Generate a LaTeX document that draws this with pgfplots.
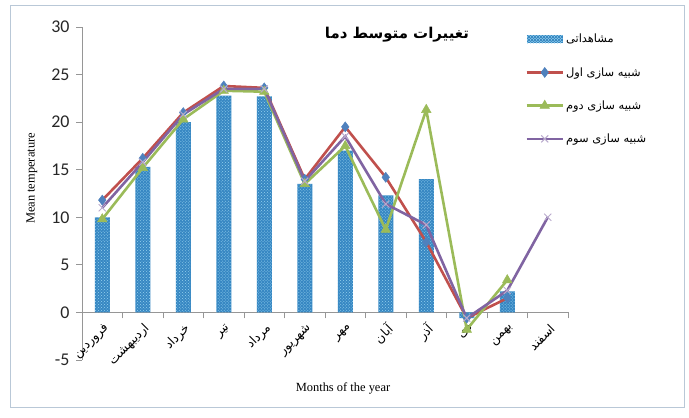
\documentclass[border=0pt]{standalone}
\usepackage{fontspec}
\usepackage{pgfplots}
\pgfplotsset{compat=1.18}
\usetikzlibrary{patterns}
\setmainfont{Liberation Serif}
\newfontfamily\arabicfont[Script=Arabic]{DejaVu Sans}
\newfontfamily\tickfont{Carlito}
\TeXXeTstate=1
\definecolor{barblue}{RGB}{55,135,195}
\definecolor{barlight}{RGB}{150,210,238}
\definecolor{sred}{RGB}{192,80,77}
\definecolor{sblue}{RGB}{79,129,189}
\definecolor{sgreen}{RGB}{155,187,89}
\definecolor{spurple}{RGB}{128,100,162}
\definecolor{xpurple}{RGB}{185,170,205}
\definecolor{framec}{RGB}{185,200,215}
\definecolor{axisgray}{RGB}{150,150,150}
\begin{document}
\begin{tikzpicture}
\useasboundingbox (0,0) rectangle (689bp,418bp);
\draw[framec, line width=1bp] (10.5bp,10bp) rectangle (684bp,412bp);
\begin{axis}[
  at={(82bp,58bp)}, anchor=south west,
  scale only axis, width=486bp, height=333bp,
  xmin=-0.5, xmax=11.5, ymin=-5, ymax=30,
  axis x line*=middle, axis y line*=left,
  axis line style={-, draw=axisgray, line width=0.8bp},
  xtick={0,...,11},
  xticklabels={{\beginR فروردین\endR},{\beginR اردیبهشت\endR},{\beginR خرداد\endR},{\beginR تیر\endR},{\beginR مرداد\endR},{\beginR شهریور\endR},{\beginR مهر\endR},{\beginR آبان\endR},{\beginR آذر\endR},{\beginR دی\endR},{\beginR بهمن\endR},{\beginR اسفند\endR}},
  minor xtick={-0.5,0.5,...,11.5},
  major x tick style={draw=none},
  minor x tick style={draw=axisgray, line width=0.8bp},
  minor tick length=6bp,
  tick align=outside,
  ytick={-5,0,...,30},
  major y tick style={draw=axisgray, line width=0.8bp},
  major tick length=6bp,
  /pgf/number format/assume math mode=true,
  yticklabel style={font=\tickfont\fontsize{18}{18}\selectfont, text=black!85, xshift=-3bp},
  xticklabel style={font=\arabicfont\fontsize{12.5}{12.5}\selectfont, rotate=45, anchor=east, yshift=-9bp, xshift=1bp},
  ylabel={Mean temperature},
  ylabel style={font=\fontsize{12.5}{12.5}\selectfont, at={(axis description cs:-0.103,0.545)}, anchor=center},
  xlabel={Months of the year},
  xlabel style={font=\fontsize{12.5}{12.5}\selectfont, at={(axis description cs:0.537,-0.084)}, anchor=center},
  legend style={at={(axis description cs:0.912,0.985)}, anchor=north west, draw=none, fill=none,
    font=\arabicfont\fontsize{11.5}{11.5}\selectfont, row sep=19bp, inner sep=0pt,
    cells={anchor=west}},
  legend image code/.code={
    \draw[mark repeat=2,mark phase=2,#1] plot coordinates {(0bp,0bp) (18bp,0bp) (36bp,0bp)};
  },
]
\addplot[ybar, bar width=15bp, draw=none, fill=barblue,
  postaction={pattern=crosshatch dots, pattern color=barlight},
  legend image code/.code={\fill[barblue] (0bp,-4bp) rectangle (36bp,4bp);
     \fill[pattern=crosshatch dots, pattern color=barlight] (0bp,-4bp) rectangle (36bp,4bp);}]
  coordinates {(0,10) (1,15.3) (2,20) (3,22.8) (4,22.7) (5,13.5) (6,17) (7,12.3) (8,14) (9,-0.6) (10,2.2)};
\addlegendentry{\beginR مشاهداتی\endR}
\addplot[sred, line width=2.6bp, mark=diamond*, mark size=5bp, mark options={fill=sblue, draw=sblue, line width=0.5bp}]
  coordinates {(0,11.8) (1,16.2) (2,21) (3,23.8) (4,23.6) (5,14) (6,19.5) (7,14.2) (8,7.4) (9,-0.6) (10,1.5)};
\addlegendentry{\beginR شبیه سازی اول\endR}
\addplot[sgreen, line width=2.6bp, mark=triangle*, mark size=5.5bp, mark options={fill=sgreen, draw=sgreen, line width=0.5bp}]
  coordinates {(0,9.8) (1,15.2) (2,20.3) (3,23.3) (4,23.2) (5,13.5) (6,17.5) (7,8.7) (8,21.3) (9,-1.8) (10,3.4)};
\addlegendentry{\beginR شبیه سازی دوم\endR}
\addplot[spurple, line width=2.6bp, mark=x, mark size=5bp, mark options={draw=xpurple, line width=1bp}]
  coordinates {(0,11) (1,15.8) (2,20.8) (3,23.5) (4,23.5) (5,13.8) (6,18.5) (7,11.4) (8,9.2) (9,-0.6) (10,2.3) (11,10)};
\addlegendentry{\beginR شبیه سازی سوم\endR}
\node[font=\arabicfont\bfseries\fontsize{15}{15}\selectfont] at (axis description cs:0.648,0.976) {\beginR تغییرات متوسط دما\endR};
\end{axis}
\end{tikzpicture}
\end{document}
